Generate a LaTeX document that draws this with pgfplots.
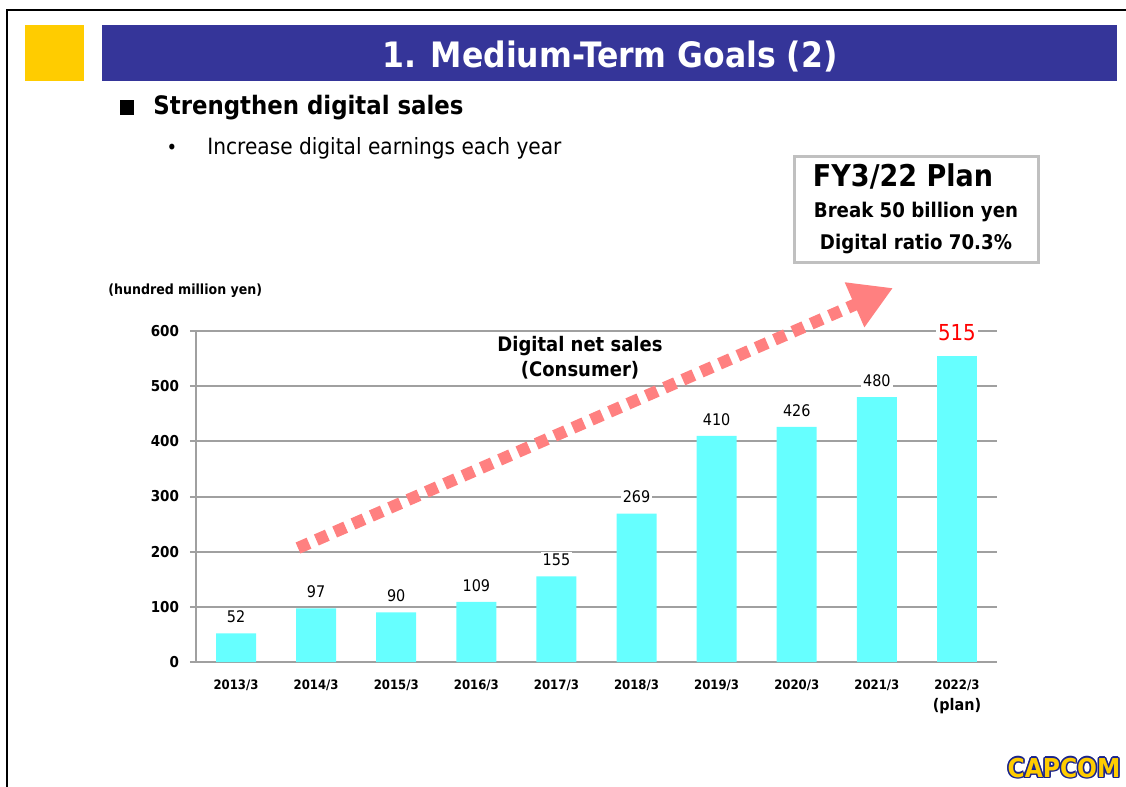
\documentclass[border=0pt]{standalone}
\usepackage{fontspec}
\setmainfont{DejaVu Sans Condensed}
\usepackage{pgfplots}
\pgfplotsset{compat=1.18}
\usetikzlibrary{arrows.meta}

\definecolor{banner}{RGB}{53,53,153}
\definecolor{gold}{RGB}{255,204,0}
\definecolor{barcyan}{RGB}{102,255,255}
\definecolor{arrowpink}{RGB}{255,128,128}
\definecolor{gridgray}{RGB}{160,160,160}
\definecolor{boxgray}{RGB}{192,192,192}
\definecolor{logoblue}{RGB}{25,35,140}

\begin{document}
% picture coordinates in pixels of the slide: 1px = 0.5pt, y pointing down
\begin{tikzpicture}[x=0.5pt,y=-0.5pt]
\useasboundingbox (0,0) rectangle (1126,787);
\draw[line width=1pt] (7,787) -- (7,10) -- (1126,10);

% header
\fill[gold] (25,25) rectangle (84,81);
\fill[banner] (102,25) rectangle (1117,81);
\node[text=white,inner sep=0,font=\fontsize{17.5pt}{20pt}\selectfont\bfseries] at (610,57) {1. Medium-Term Goals (2)};

\fill (120,100) rectangle (134,115);
\node[anchor=west,inner sep=0,font=\fontsize{12.7pt}{15pt}\selectfont\bfseries] at (153,108) {Strengthen digital sales};
\node[inner sep=0,font=\fontsize{10pt}{12pt}\selectfont] at (172,149) {•};
\node[anchor=west,inner sep=0,font=\fontsize{11.2pt}{13pt}\selectfont] at (207,148) {Increase digital earnings each year};

% plan box
\draw[boxgray,line width=1.5pt,fill=white] (794,156) rectangle (1038,262);
\node[inner sep=0,font=\fontsize{15pt}{18pt}\selectfont\bfseries] at (903,176) {FY3/22 Plan};
\node[inner sep=0,font=\fontsize{10.1pt}{12pt}\selectfont\bfseries] at (916,212) {Break 50 billion yen};
\node[inner sep=0,font=\fontsize{10.1pt}{12pt}\selectfont\bfseries] at (916,244) {Digital ratio 70.3\%};

\node[anchor=west,inner sep=0,font=\fontsize{7pt}{8pt}\selectfont\bfseries] at (108,291) {(hundred million yen)};

\coordinate (axorig) at (196,662);
\begin{axis}[
  at={(axorig)}, anchor=south west,
  scale only axis, width=400.5pt, height=165.5pt,
  xmin=-0.5, xmax=9.5, ymin=0, ymax=600,
  ytick={0,100,...,600},
  xtick={0,...,9},
  xticklabels={2013/3,2014/3,2015/3,2016/3,2017/3,2018/3,2019/3,2020/3,2021/3,{2022/3\\[2.5pt]\fontsize{8pt}{9pt}\selectfont(plan)}},
  axis lines*=left,
  axis line style={gridgray,line width=1pt},
  ymajorgrids, grid style={gridgray,line width=1pt},
  tick align=outside, major tick length=3pt,
  ytick style={gridgray,line width=1pt},
  xtick style={draw=none},
  /pgf/number format/assume math mode=true,
  yticklabel style={font=\fontsize{7.5pt}{9pt}\selectfont\bfseries,xshift=-2pt},
  xticklabel style={font=\fontsize{6.5pt}{8pt}\selectfont\bfseries,align=center,yshift=-2.5pt},
  ybar, bar width=20pt, bar shift=0pt,
  point meta=explicit symbolic,
  nodes near coords,
  clip=false,
]
\addplot[fill=barcyan,draw=none,
  every node near coord/.append style={font=\fontsize{8pt}{9pt}\selectfont,fill=white,inner sep=1pt,yshift=4pt}]
  coordinates {(0,52)[52] (1,97)[97] (2,90)[90] (3,109)[109] (4,155)[155]
               (5,269)[269] (6,410)[410] (7,426)[426] (8,480)[480]};
\addplot[fill=barcyan,draw=none,
  every node near coord/.append style={font=\fontsize{11pt}{13pt}\selectfont,text=red,fill=white,inner sep=1pt,yshift=6.5pt}]
  coordinates {(9,555)[515]};
\end{axis}

% trend arrow
\draw[arrowpink,line width=6pt,dash pattern=on 6pt off 4pt,
  -{Triangle[length=21pt,width=23pt]}] (298,548) -- (893,288);

\node[align=center,inner sep=0,font=\fontsize{10pt}{12.5pt}\selectfont\bfseries] at (580,358) {Digital net sales\\(Consumer)};

% logo
\foreach \dx/\dy in {-1.5/0,1.5/0,0/-1.5,0/1.5,-1.2/-1.2,1.2/1.2,-1.2/1.2,1.2/-1.2}
  \node[text=logoblue,inner sep=0,font=\fontsize{13pt}{15pt}\selectfont\bfseries] at (1064+\dx,768+\dy) {CAPCOM};
\node[text=gold,inner sep=0,font=\fontsize{13pt}{15pt}\selectfont\bfseries] at (1064,768) {CAPCOM};
\end{tikzpicture}
\end{document}
